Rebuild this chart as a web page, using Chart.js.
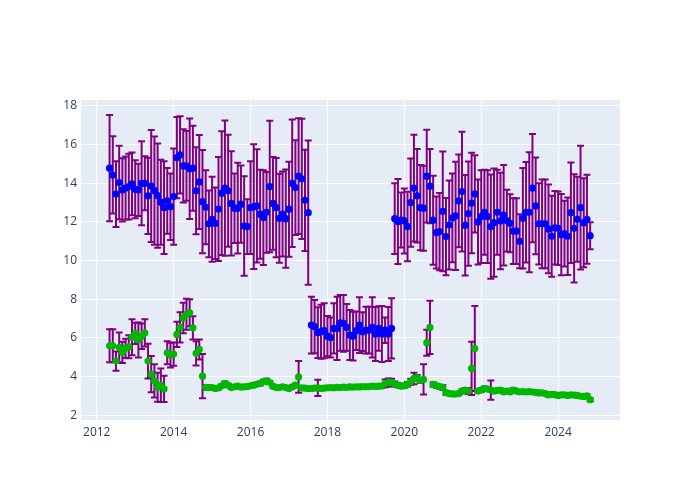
<!DOCTYPE html>
<html>
<head>
<meta charset="utf-8">
<script src="https://cdn.jsdelivr.net/npm/chart.js@4/dist/chart.umd.min.js"></script>
<style>
  html, body { margin: 0; padding: 0; background: #ffffff; }
  #wrap { width: 700px; height: 500px; }
</style>
</head>
<body>
<div id="wrap"><canvas id="c" width="700" height="500"></canvas></div>
<script>
// ---- categories: monthly observation dates ----
const months = [
  "2012-05","2012-06","2012-07","2012-08","2012-09","2012-10","2012-11","2012-12",
  "2013-01","2013-02","2013-03","2013-04","2013-05","2013-06","2013-07","2013-08","2013-09","2013-10","2013-11","2013-12",
  "2014-01","2014-02","2014-03","2014-04","2014-05","2014-06","2014-07","2014-08","2014-09","2014-10","2014-11","2014-12",
  "2015-01","2015-02","2015-03","2015-04","2015-05","2015-06","2015-07","2015-08","2015-09","2015-10","2015-11","2015-12",
  "2016-01","2016-02","2016-03","2016-04","2016-05","2016-06","2016-07","2016-08","2016-09","2016-10","2016-11","2016-12",
  "2017-01","2017-02","2017-03","2017-04","2017-05","2017-06","2017-07","2017-08","2017-09","2017-10","2017-11","2017-12",
  "2018-01","2018-02","2018-03","2018-04","2018-05","2018-06","2018-07","2018-08","2018-09","2018-10","2018-11","2018-12",
  "2019-01","2019-02","2019-03","2019-04","2019-05","2019-06","2019-07","2019-08","2019-09","2019-10","2019-11","2019-12",
  "2020-01","2020-02","2020-03","2020-04","2020-05","2020-06","2020-07","2020-08","2020-09","2020-10","2020-11","2020-12",
  "2021-01","2021-02","2021-03","2021-04","2021-05","2021-06","2021-07","2021-08","2021-09","2021-10","2021-11","2021-12",
  "2022-01","2022-02","2022-03","2022-04","2022-05","2022-06","2022-07","2022-08","2022-09","2022-10","2022-11","2022-12",
  "2023-01","2023-02","2023-03","2023-04","2023-05","2023-06","2023-07","2023-08","2023-09","2023-10","2023-11","2023-12",
  "2024-01","2024-02","2024-03","2024-04","2024-05","2024-06","2024-07","2024-08","2024-09","2024-10","2024-11"
];

// ---- blue series values and symmetric errors ----
const blueValues = [
  14.78,14.43,13.44,14.04,13.66,13.75,13.83,13.97,
  13.69,13.66,14.00,14.00,13.35,13.86,13.62,13.36,13.02,12.74,13.09,12.79,
  13.31,15.33,15.47,14.90,14.90,14.75,14.78,13.61,14.07,13.05,12.76,11.90,
  12.14,11.93,12.67,13.49,13.75,13.61,12.96,12.71,12.71,12.92,11.79,11.76,
  12.74,12.79,12.83,12.40,12.22,12.50,13.83,12.96,12.74,12.19,12.41,12.17,
  12.66,14.00,13.78,14.37,14.23,13.12,12.48,6.66,6.58,6.27,6.32,6.37,
  6.09,6.02,6.49,6.49,6.78,6.75,6.54,6.15,6.09,6.37,6.66,6.32,
  6.40,6.40,6.54,6.20,6.49,6.20,6.40,6.20,6.49,12.17,12.02,12.10,
  12.05,11.76,13.00,13.75,13.35,12.74,12.71,14.37,13.85,12.09,11.45,11.50,
  12.55,11.24,11.84,12.21,12.31,13.09,13.57,11.83,12.43,12.98,13.45,12.00,
  12.27,12.50,12.27,11.76,11.96,12.50,12.05,12.35,12.07,11.93,11.52,11.52,
  11.00,12.19,12.50,12.50,13.75,12.83,11.90,11.90,11.90,11.64,11.26,11.70,
  11.67,11.34,11.39,11.26,12.48,11.67,12.14,12.74,11.96,12.14,11.29
];
const blueErrors = [
  2.75,2.00,1.70,1.90,1.64,1.63,1.70,1.62,
  1.50,1.35,2.17,1.40,1.97,2.90,2.80,2.70,2.20,2.40,1.70,1.72,
  2.49,2.10,2.00,1.90,1.80,2.60,2.20,2.25,2.43,2.67,1.92,1.73,
  2.20,1.85,2.69,3.20,3.50,2.90,2.70,1.80,2.35,2.00,2.57,1.42,
  2.40,3.23,2.93,2.30,2.45,2.09,3.40,2.40,2.57,2.30,2.20,2.54,
  2.46,3.30,2.45,3.00,3.11,2.62,3.73,1.47,1.38,1.31,1.40,1.42,
  1.04,1.04,1.30,1.64,1.44,1.47,1.21,1.29,1.26,1.00,1.44,1.00,
  1.21,1.21,1.56,1.40,1.15,1.45,0.66,1.40,1.56,1.83,2.20,1.42,
  1.68,1.80,2.28,2.76,2.42,2.20,2.20,2.40,1.92,2.30,1.86,2.00,
  3.10,2.00,2.30,2.30,2.80,2.40,3.10,2.60,2.70,2.60,2.00,2.20,
  2.40,2.20,2.40,2.70,2.80,2.20,2.50,2.60,1.60,1.50,1.70,1.70,
  1.40,2.60,2.60,3.10,2.80,2.50,2.10,2.30,2.30,2.30,2.10,1.90,
  1.90,2.10,1.70,2.00,2.60,2.80,2.20,3.20,2.30,2.30,0.70
];

// ---- green series values and symmetric errors ----
const greenValues = [
  5.59,5.59,4.80,5.51,5.25,5.46,5.54,6.03,
  6.23,5.89,6.09,6.26,4.80,4.12,3.78,3.44,3.55,3.36,5.23,5.11,
  5.16,6.18,6.54,7.03,7.22,7.30,6.52,5.20,5.40,4.02,3.44,3.43,
  3.43,3.38,3.41,3.52,3.64,3.55,3.43,3.47,3.50,3.45,3.47,3.48,
  3.52,3.55,3.60,3.64,3.73,3.78,3.69,3.50,3.43,3.43,3.47,3.43,
  3.38,3.47,3.55,3.98,3.41,3.40,3.38,3.38,3.40,3.41,3.38,3.40,
  3.42,3.43,3.42,3.44,3.43,3.45,3.44,3.46,3.45,3.47,3.46,3.48,
  3.47,3.48,3.50,3.49,3.50,3.51,3.64,3.70,3.68,3.62,3.55,3.50,
  3.52,3.60,3.73,3.90,3.93,3.80,3.85,5.75,6.54,3.59,3.52,3.48,
  3.44,3.16,3.12,3.10,3.09,3.12,3.24,3.30,3.25,4.42,5.45,3.25,
  3.30,3.38,3.35,3.30,3.24,3.28,3.30,3.21,3.24,3.21,3.30,3.24,
  3.21,3.22,3.20,3.22,3.20,3.18,3.15,3.16,3.12,3.05,3.08,3.06,
  3.02,3.05,3.05,3.02,3.05,3.04,3.02,2.98,2.97,3.00,2.80
];
const greenErrors = [
  0.85,0.85,0.50,0.77,0.55,0.50,0.60,0.93,
  0.55,0.90,0.66,0.70,0.90,0.94,0.86,0.75,0.87,0.68,0.60,0.64,
  0.60,0.65,0.78,0.79,0.80,0.70,0.60,0.63,0.52,1.15,0.12,0.08,
  0.08,0.08,0.08,0.08,0.10,0.08,0.08,0.08,0.08,0.08,0.08,0.08,
  0.08,0.08,0.08,0.10,0.10,0.10,0.08,0.08,0.08,0.08,0.08,0.08,
  0.08,0.08,0.08,0.82,0.08,0.08,0.08,0.08,0.08,0.42,0.08,0.08,
  0.08,0.08,0.08,0.08,0.08,0.08,0.08,0.08,0.08,0.08,0.08,0.08,
  0.08,0.08,0.08,0.08,0.10,0.10,0.20,0.20,0.20,0.12,0.10,0.10,
  0.10,0.12,0.15,0.30,0.15,0.12,0.78,0.67,1.38,0.12,0.10,0.10,
  0.12,0.10,0.08,0.08,0.08,0.08,0.10,0.10,0.15,1.38,2.20,0.08,
  0.10,0.10,0.10,0.50,0.08,0.08,0.08,0.08,0.08,0.08,0.10,0.08,
  0.08,0.08,0.08,0.08,0.08,0.08,0.08,0.08,0.08,0.08,0.08,0.08,
  0.08,0.08,0.08,0.08,0.08,0.08,0.08,0.08,0.08,0.08,0.08
];

// ---- tick labels ----
const xTicks = [2012, 2014, 2016, 2018, 2020, 2022, 2024];
const yTicks = [2, 4, 6, 8, 10, 12, 14, 16, 18];

// month string -> decimal year for the linear axis
function toYear(s) {
  const [y, m] = s.split("-").map(Number);
  return y + (m - 1) / 12;
}
const xs = months.map(toYear);
const bluePoints = xs.map((x, i) => ({ x: x, y: blueValues[i] }));
const greenPoints = xs.map((x, i) => ({ x: x, y: greenValues[i] }));

const bgPlugin = {
  id: "plotBg",
  beforeDraw(chart) {
    const { ctx, chartArea: a } = chart;
    ctx.save();
    ctx.fillStyle = "#ffffff";
    ctx.fillRect(0, 0, chart.width, chart.height);
    ctx.fillStyle = "#E5ECF6";
    ctx.fillRect(a.left, a.top, a.right - a.left, a.bottom - a.top);
    ctx.restore();
  }
};

const errorBarPlugin = {
  id: "errorBars",
  beforeDatasetDraw(chart, args) {
    const ds = chart.data.datasets[args.index];
    const errs = ds.errors;
    if (!errs) return;
    const { ctx, chartArea: a } = chart;
    const sx = chart.scales.x, sy = chart.scales.y;
    ctx.save();
    ctx.beginPath();
    ctx.rect(a.left, a.top, a.right - a.left, a.bottom - a.top);
    ctx.clip();
    ctx.strokeStyle = "#800080";
    ctx.lineWidth = 2;
    const cap = 3.5;
    ds.data.forEach((p, i) => {
      const px = sx.getPixelForValue(p.x);
      const yt = sy.getPixelForValue(p.y + errs[i]);
      const yb = sy.getPixelForValue(p.y - errs[i]);
      ctx.beginPath();
      ctx.moveTo(px, yt); ctx.lineTo(px, yb);
      ctx.moveTo(px - cap, yt); ctx.lineTo(px + cap, yt);
      ctx.moveTo(px - cap, yb); ctx.lineTo(px + cap, yb);
      ctx.stroke();
    });
    ctx.restore();
  }
};

const tickFont = { family: "'Open Sans', 'Noto Sans', sans-serif", size: 12 };

new Chart(document.getElementById("c"), {
  type: "scatter",
  data: {
    datasets: [
      {
        label: "blue",
        data: bluePoints,
        errors: blueErrors,
        backgroundColor: "#0000FF",
        borderColor: "#0000FF",
        pointRadius: 3.6,
        pointHoverRadius: 3.6,
        borderWidth: 0
      },
      {
        label: "green",
        data: greenPoints,
        errors: greenErrors,
        backgroundColor: "#00B800",
        borderColor: "#00B800",
        pointRadius: 3.6,
        pointHoverRadius: 3.6,
        borderWidth: 0
      }
    ]
  },
  options: {
    responsive: false,
    animation: false,
    devicePixelRatio: 1,
    layout: { padding: { left: 0, right: 80, top: 100, bottom: 0 } },
    plugins: { legend: { display: false }, tooltip: { enabled: false } },
    scales: {
      x: {
        type: "linear",
        min: 2011.59,
        max: 2025.61,
        afterBuildTicks(scale) { scale.ticks = xTicks.map(v => ({ value: v })); },
        afterFit(scale) { scale.height = 80; },
        grid: { color: "#ffffff", lineWidth: 1, drawTicks: false },
        border: { display: false },
        ticks: {
          padding: 5,
          color: "#2a3f5f",
          font: tickFont,
          maxRotation: 0,
          callback: v => String(v)
        }
      },
      y: {
        type: "linear",
        min: 1.75,
        max: 18.31,
        afterBuildTicks(scale) { scale.ticks = yTicks.map(v => ({ value: v })); },
        afterFit(scale) { scale.width = 81; },
        grid: { color: "#ffffff", lineWidth: 1, drawTicks: false },
        border: { display: false },
        ticks: {
          padding: 4,
          color: "#2a3f5f",
          font: tickFont,
          callback: v => String(v)
        }
      }
    }
  },
  plugins: [bgPlugin, errorBarPlugin]
});
</script>
</body>
</html>
